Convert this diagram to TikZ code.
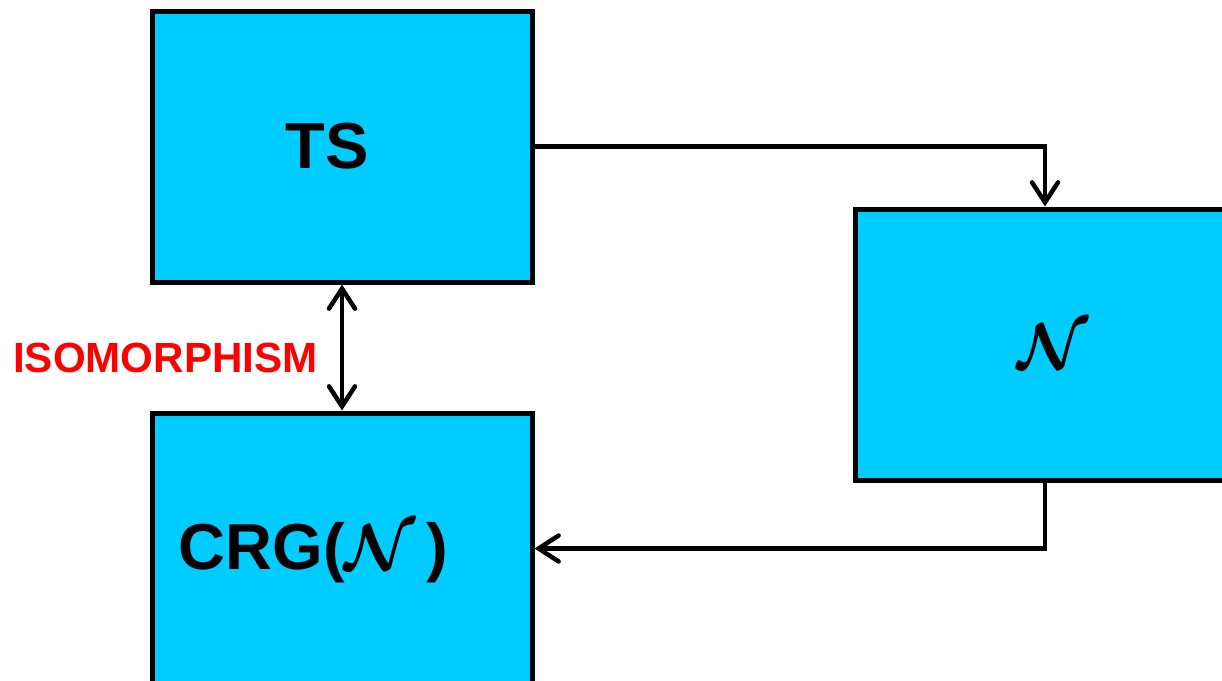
\RequirePackage{fix-cm}
\documentclass[tikz,border=0pt]{standalone}
\usepackage{amsmath, amssymb}
\usepackage{fontspec}
\setmainfont{Liberation Sans}
\usepackage{tikz}
\usetikzlibrary{positioning, arrows.meta}
\definecolor{BoxCyan}{RGB}{0, 204, 255}
\definecolor{IsoRed}{RGB}{255, 0, 0}

\begin{document}
\begin{tikzpicture}[
    block/.style={draw=black, fill=BoxCyan, line width=0.1cm, minimum width=7.6cm, minimum height=5.42cm},
    biglabel/.style={font=\fontsize{37}{40}\selectfont\bfseries},
    barb/.tip={Straight Barb[length=0.4cm, width=0.52cm, line cap=round]},
    link/.style={line width=0.09cm, -barb}
  ]
    \useasboundingbox (0, 0) rectangle (24.44, -13.62);

    % Boxes
    \node[block] (ts) at (6.84, -2.93) {};
    \node[block] (net) at (20.9, -6.89) {};
    \node[block] (crg) at (6.84, -10.97) {};

    % Texts
    \node[biglabel] (tslbl) at (6.54, -2.93) {TS};
    \node[biglabel] (netlbl) at (21.05, -6.93) {$\boldsymbol{\mathcal{N}}$};
    \node[biglabel, anchor=west] (crglbl) at (3.45, -11.05) {CRG($\boldsymbol{\mathcal{N}}$\,)};
    \node[font=\fontsize{24}{28}\selectfont\bfseries, text=IsoRed] (iso) at (3.31, -7.16) {ISOMORPHISM};

    % Connectors
    \draw[link] (ts.east) -| (net.north);
    \draw[link] (net.south) |- (crg.east);
    \draw[link, barb-barb] (ts.south) -- (crg.north);
  \end{tikzpicture}
\end{document}
